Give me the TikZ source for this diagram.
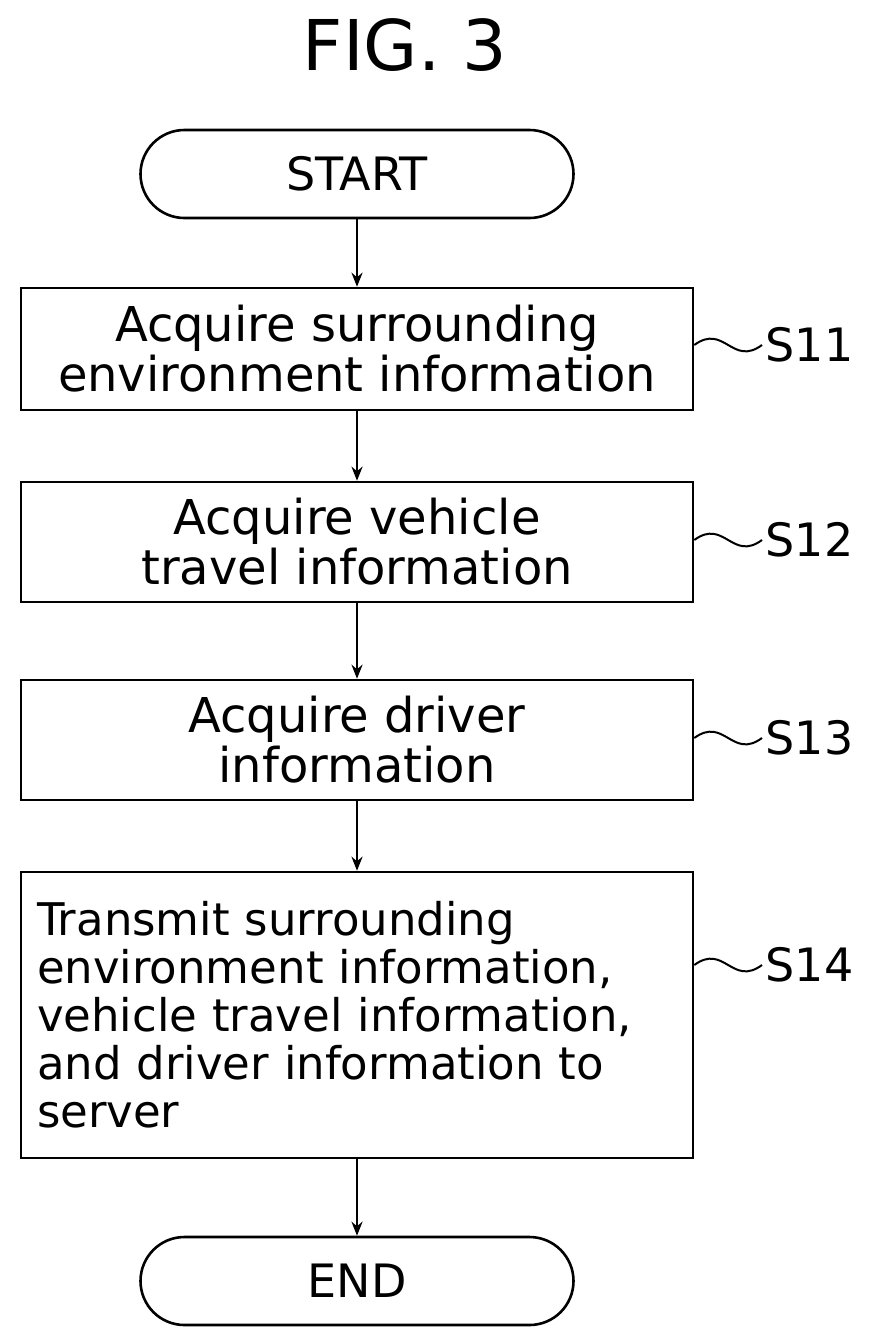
\documentclass[tikz,border=0pt]{standalone}
\usepackage{fontspec}
\setmainfont{DejaVu Sans}
\usetikzlibrary{arrows.meta}
\tikzset{
  stepbox/.style={draw, line width=2.6pt, minimum width=672pt, align=center, font=\fontsize{48}{50}\selectfont, inner sep=0pt},
  termbox/.style={draw, line width=2.6pt, rounded corners=44pt, minimum width=433pt, minimum height=88pt, font=\fontsize{46}{50}\selectfont},
  flow/.style={-{Stealth[length=14pt,width=11pt]}, line width=2.4pt},
  steplabel/.style={font=\fontsize{46}{50}\selectfont, anchor=west}
}
\begin{document}
\begin{tikzpicture}[x=1pt, y=-1pt]
	\useasboundingbox (0,0) rectangle (870,1334);

	% title
	\node[font=\fontsize{70}{74}\selectfont] (title) at (405,45) {FIG. 3};

	% flow
	\node[termbox] (start) at (357,174) {START};
	\node[stepbox, minimum height=122pt] (s11) at (357,349) {Acquire surrounding\\environment information};
	\node[stepbox, minimum height=120pt] (s12) at (357,542) {Acquire vehicle\\travel information};
	\node[stepbox, minimum height=120pt] (s13) at (357,740) {Acquire driver\\information};
	\node[stepbox, minimum height=286pt, align=left, text width=640pt, font=\fontsize{45}{48}\selectfont] (s14) at (357,1015) {Transmit surrounding\\environment information,\\vehicle travel information,\\and driver information to\\server};
	\node[termbox] (end) at (357,1281) {END};

	\draw[flow] (start) -- (s11);
	\draw[flow] (s11) -- (s12);
	\draw[flow] (s12) -- (s13);
	\draw[flow] (s13) -- (s14);
	\draw[flow] (s14) -- (end);

	% step labels
	\foreach \s/\y in {s11/345, s12/540, s13/738, s14/965} {
		\node[steplabel] (\s lab) at (762,\y) {\MakeUppercase{\s}};
		\draw[line width=2pt] (\s.east |- 0,\y) .. controls +(30,-22) and +(-30,22) .. (\s lab.west);
	}
\end{tikzpicture}
\end{document}
